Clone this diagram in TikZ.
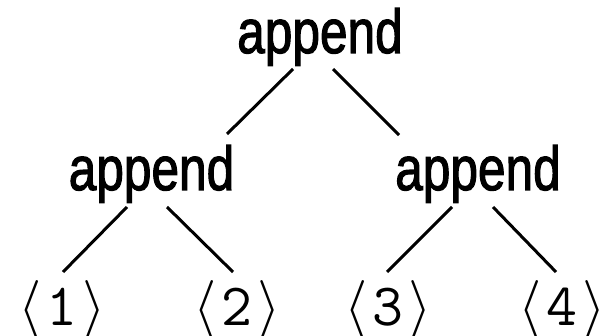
\RequirePackage{fix-cm}
\documentclass[tikz,border=0pt]{standalone}
\usepackage{fontspec}
\usepackage{graphicx}
\setmainfont{Liberation Sans}
\newfontfamily\apfont{Liberation Sans}[FakeBold=2]
\usetikzlibrary{calc}
\newcommand{\aptext}{\scalebox{0.8}[1]{\apfont append}}
\newcommand{\leafnum}[1]{$\langle\kern5pt\texttt{#1}\kern5pt\rangle$}
\begin{document}
\begin{tikzpicture}[x=1pt,y=-1pt,
  fn/.style={inner sep=0pt, anchor=base, font=\fontsize{62}{70}\selectfont},
  lf/.style={inner sep=0pt, anchor=base, font=\fontsize{60}{70}\selectfont},
  edge/.style={line width=3pt}]
\useasboundingbox (0,0) rectangle (609,336);
\node[fn] (root) at (320,53) {\aptext};
\node[fn] (ml) at (151.5,190) {\aptext};
\node[fn] (mr) at (478,190) {\aptext};
\node[lf] (l1) at (62,325) {\leafnum{1}};
\node[lf] (l2) at (237,325) {\leafnum{2}};
\node[lf] (l3) at (388,325) {\leafnum{3}};
\node[lf] (l4) at (562,325) {\leafnum{4}};
\draw[edge] ($(root.base)+(-27,16)$) -- ($(ml.base)+(75.5,-56)$);
\draw[edge] ($(root.base)+(13,16)$) -- ($(mr.base)+(-79,-55)$);
\draw[edge] ($(ml.base)+(-24.5,17)$) -- ($(l1.base)+(1,-53)$);
\draw[edge] ($(ml.base)+(15.5,17)$) -- ($(l2.base)+(-4,-53)$);
\draw[edge] ($(mr.base)+(-26,17)$) -- ($(l3.base)+(-1,-53)$);
\draw[edge] ($(mr.base)+(15,17)$) -- ($(l4.base)+(-6,-53)$);
\end{tikzpicture}
\end{document}
